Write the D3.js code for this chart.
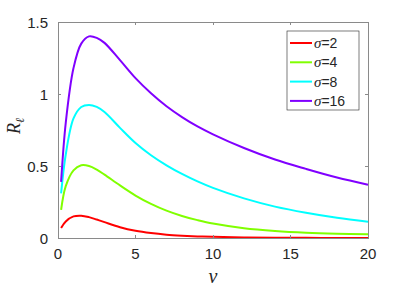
<!DOCTYPE html>
<meta charset="utf-8">
<script src="https://d3js.org/d3.v7.min.js"></script>
<style>
  body { margin: 0; background: #fff; }
  text { font-family: "Liberation Sans", Arial, sans-serif; fill: #262626; }
  .frame line, .frame rect { stroke: #8a8a8a; }
</style>
<div id="chart"></div>
<script>
  // Data
  var nu = [0.2, 0.5, 1, 1.5, 2, 2.5, 3, 4, 5, 6, 7, 8, 9, 10, 12, 14, 16, 18, 20];
  var r2  = [0.07, 0.115, 0.15, 0.155, 0.145, 0.128, 0.11, 0.075, 0.05, 0.034, 0.023, 0.016, 0.011, 0.008, 0.004, 0.002, 0.001, 0.0007, 0.0005];
  var r4  = [0.195, 0.36, 0.47, 0.505, 0.50, 0.475, 0.44, 0.365, 0.295, 0.237, 0.19, 0.153, 0.124, 0.10, 0.068, 0.049, 0.037, 0.030, 0.026];
  var r8  = [0.31, 0.58, 0.83, 0.91, 0.924, 0.91, 0.875, 0.765, 0.66, 0.575, 0.505, 0.445, 0.393, 0.348, 0.275, 0.218, 0.175, 0.14, 0.113];
  var r16 = [0.39, 0.80, 1.18, 1.35, 1.40, 1.39, 1.355, 1.235, 1.11, 1.005, 0.915, 0.84, 0.775, 0.72, 0.625, 0.545, 0.48, 0.42, 0.37];
  var sigmas = ["2", "4", "8", "16"];
  var colors = ["#ff0000", "#80ff00", "#00ffff", "#8000ff"];
  var xTicks = [0, 5, 10, 15, 20];
  var yTicks = [0, 0.5, 1, 1.5];

  var series = [r2, r4, r8, r16];

  var margin = { top: 22, right: 39, bottom: 50, left: 58 },
      width = 407 - margin.left - margin.right,
      height = 288 - margin.top - margin.bottom;

  var svg = d3.select("#chart").append("svg")
      .attr("width", 407).attr("height", 288);
  var g = svg.append("g")
      .attr("transform", "translate(" + margin.left + "," + margin.top + ")");

  var x = d3.scaleLinear().domain([0, 20]).range([0, width]);
  var y = d3.scaleLinear().domain([0, 1.5]).range([height, 0]);

  // curves
  var line = d3.line()
      .x(function (d) { return x(d[0]); })
      .y(function (d) { return y(d[1]); })
      .curve(d3.curveCatmullRom.alpha(0.5));

  g.selectAll(".curve")
    .data(series)
    .enter().append("path")
      .attr("class", "curve")
      .attr("fill", "none")
      .attr("stroke", function (d, i) { return colors[i]; })
      .attr("stroke-width", 2)
      .attr("d", function (d) { return line(nu.map(function (v, j) { return [v, d[j]]; })); });

  // box + inward ticks on all sides
  var frame = g.append("g").attr("class", "frame").attr("shape-rendering", "crispEdges");
  frame.append("rect")
      .attr("x", 0).attr("y", 0).attr("width", width).attr("height", height)
      .attr("fill", "none");

  var tk = 3;
  xTicks.forEach(function (t) {
    frame.append("line").attr("x1", x(t)).attr("x2", x(t)).attr("y1", height).attr("y2", height - tk);
    frame.append("line").attr("x1", x(t)).attr("x2", x(t)).attr("y1", 0).attr("y2", tk);
  });
  yTicks.forEach(function (t) {
    frame.append("line").attr("x1", 0).attr("x2", tk).attr("y1", y(t)).attr("y2", y(t));
    frame.append("line").attr("x1", width).attr("x2", width - tk).attr("y1", y(t)).attr("y2", y(t));
  });

  g.selectAll(".xl").data(xTicks).enter().append("text")
      .attr("x", function (d) { return x(d); })
      .attr("y", height + 21)
      .attr("text-anchor", "middle")
      .style("font-size", "15px")
      .text(function (d) { return d; });

  g.selectAll(".yl").data(yTicks).enter().append("text")
      .attr("x", -10)
      .attr("y", function (d) { return y(d) + 5.5; })
      .attr("text-anchor", "end")
      .style("font-size", "15px")
      .text(function (d) { return d; });

  // axis labels
  svg.append("text")
      .attr("x", margin.left + x(10))
      .attr("y", 283)
      .attr("text-anchor", "middle")
      .style("font-family", "'Liberation Serif', serif")
      .style("font-style", "italic")
      .style("font-size", "20px")
      .text("ν");

  var yl = svg.append("text")
      .attr("transform", "translate(20," + 126 + ") rotate(-90)")
      .attr("text-anchor", "middle")
      .style("font-family", "'Liberation Serif', serif")
      .style("font-style", "italic")
      .style("font-size", "18px");
  yl.append("tspan").text("R");
  yl.append("tspan").attr("dy", 4).style("font-size", "12px").text("ℓ");

  // legend
  var lg = svg.append("g").attr("transform", "translate(287,31)");
  lg.append("rect")
      .attr("width", 72).attr("height", 79)
      .attr("fill", "#fff")
      .attr("stroke", "#262626")
      .attr("stroke-width", 0.6);

  var rows = lg.selectAll(".row").data(sigmas).enter().append("g")
      .attr("transform", function (d, i) { return "translate(0," + (12 + i * 19.3) + ")"; });
  rows.append("line")
      .attr("x1", 3).attr("x2", 25)
      .attr("stroke", function (d, i) { return colors[i]; })
      .attr("stroke-width", 2);
  var lt = rows.append("text")
      .attr("x", 27).attr("y", 5)
      .style("font-size", "14px");
  lt.append("tspan")
      .style("font-family", "'Liberation Serif', serif")
      .style("font-style", "italic")
      .style("font-size", "15px")
      .text("σ");
  lt.append("tspan").text(function (d) { return "=" + d; });
</script>
